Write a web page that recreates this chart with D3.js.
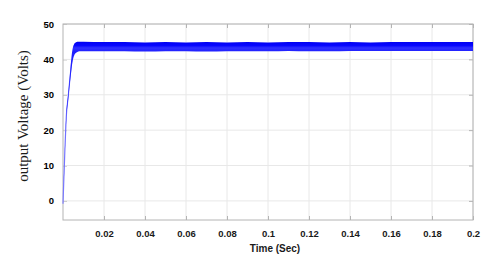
<!DOCTYPE html>
<html><head><meta charset="utf-8">
<script src="https://cdn.jsdelivr.net/npm/d3@7"></script>
<style>body{margin:0;background:#fff}svg{display:block}</style>
</head><body>
<svg id="c" width="494" height="264"></svg>
<script>
// time (s), upper and lower envelope of the output voltage band (V)
const time  = [0, 0.0005, 0.001, 0.0016, 0.0025, 0.0032, 0.0038, 0.0043, 0.0048, 0.0054, 0.0062, 0.007, 0.008, 0.01, 0.02, 0.03, 0.04, 0.05, 0.06, 0.07, 0.08, 0.09, 0.1, 0.11, 0.12, 0.13, 0.14, 0.15, 0.16, 0.17, 0.18, 0.19, 0.2];
const upper = [-0.8, 8, 16, 24.5, 30, 34.5, 38.5, 41.5, 43.3, 44.3, 44.8, 45, 45, 45, 44.9, 44.9, 44.8, 44.9, 44.8, 44.9, 44.8, 44.9, 44.8, 44.9, 44.9, 44.8, 44.9, 44.8, 44.9, 44.9, 44.9, 44.9, 44.9];
const lower = [-0.8, 7, 15, 23, 28.5, 32.5, 35.5, 38, 39.8, 41, 41.8, 42.1, 42.3, 42.3, 42.3, 42.3, 42.2, 42.3, 42.3, 42.2, 42.3, 42.3, 42.3, 42.4, 42.3, 42.3, 42.4, 42.4, 42.4, 42.4, 42.4, 42.4, 42.4];
const xTicks = [0.02, 0.04, 0.06, 0.08, 0.1, 0.12, 0.14, 0.16, 0.18, 0.2];
const xTickLabels = ["0.02","0.04","0.06","0.08","0.1","0.12","0.14","0.16","0.18","0.2"];
const yTicks = [0, 10, 20, 30, 40, 50];
const yTickLabels = ["0","10","20","30","40","50"];

const svg = d3.select("#c");
const L = 63, R = 473, T = 24, B = 220;
const x = d3.scaleLinear().domain([0, 0.2]).range([L, R]);
const y = d3.scaleLinear().domain([-5.4, 50]).range([B, T]);
const FONT = "Liberation Sans, Arial, sans-serif";

// y axis title
svg.append("text").attr("transform", "translate(28,116) rotate(-90)").attr("text-anchor", "middle")
  .attr("font-family", "Liberation Serif, Times New Roman, serif")
  .attr("font-size", 15).attr("fill", "#1a1a1a").text("output Voltage (Volts)");

// left axis with labels (same construction that rendered all labels in testing)
const axL = svg.append("g").attr("transform", `translate(${L},0)`)
  .call(d3.axisLeft(y).tickValues(yTicks).tickFormat((d, i) => yTickLabels[i]).tickSizeInner(-4).tickSizeOuter(0).tickPadding(9));
axL.selectAll(".tick text").attr("font-family", FONT)
  .attr("font-weight", "bold").attr("font-size", 9.5).attr("fill", "#000");

// grid
const g = svg.append("g");
g.selectAll("line.gx").data(xTicks).join("line").attr("class", "gx")
  .attr("x1", d => x(d)).attr("x2", d => x(d)).attr("y1", T).attr("y2", B)
  .attr("stroke", "#e8e8e8").attr("stroke-width", 1);
g.selectAll("line.gy").data(yTicks).join("line").attr("class", "gy")
  .attr("x1", L).attr("x2", R).attr("y1", d => y(d)).attr("y2", d => y(d))
  .attr("stroke", "#e8e8e8").attr("stroke-width", 1);

// box
svg.append("rect").attr("x", L).attr("y", T).attr("width", R - L).attr("height", B - T)
  .attr("fill", "none").attr("stroke", "#b4b4b4").attr("stroke-width", 1);

// other axes with inward ticks
const axB = svg.append("g").attr("transform", `translate(0,${B})`)
  .call(d3.axisBottom(x).tickValues(xTicks).tickFormat((d, i) => xTickLabels[i]).tickSizeInner(-4).tickSizeOuter(0).tickPadding(10));
const axT = svg.append("g").attr("transform", `translate(0,${T})`)
  .call(d3.axisTop(x).tickValues(xTicks).tickFormat(() => "").tickSizeInner(-4).tickSizeOuter(0));
const axR = svg.append("g").attr("transform", `translate(${R},0)`)
  .call(d3.axisRight(y).tickValues(yTicks).tickFormat(() => "").tickSizeInner(-4).tickSizeOuter(0));
[axB, axT, axL, axR].forEach(a => {
  a.select(".domain").remove();
  a.selectAll(".tick line").attr("stroke", "#b4b4b4");
});
axB.selectAll(".tick text").attr("font-family", FONT)
  .attr("font-weight", "bold").attr("font-size", 9.5).attr("fill", "#1a1a1a");

// signal band
const defs = svg.append("defs");
const grad = defs.append("linearGradient").attr("id", "bandgrad")
  .attr("gradientUnits", "userSpaceOnUse").attr("x1", 0).attr("x2", 0)
  .attr("y1", y(45)).attr("y2", y(42.3));
grad.append("stop").attr("offset", 0).attr("stop-color", "#0000f0");
grad.append("stop").attr("offset", 0.4).attr("stop-color", "#0808ff");
grad.append("stop").attr("offset", 0.65).attr("stop-color", "#3030ff");
grad.append("stop").attr("offset", 1).attr("stop-color", "#2020ff");

const data = time.map((t, i) => ({t, u: upper[i], l: lower[i]}));
const rise = data.filter(d => d.t <= 0.0043);
svg.append("path").datum(rise)
  .attr("d", d3.line().curve(d3.curveMonotoneX).x(d => x(d.t)).y(d => y((d.u + d.l) / 2)))
  .attr("fill", "none").attr("stroke", "#8080ff").attr("stroke-width", 1.2);
svg.append("path").datum(data)
  .attr("d", d3.area().curve(d3.curveMonotoneX).x(d => x(d.t)).y0(d => y(d.l)).y1(d => y(d.u)))
  .attr("fill", "url(#bandgrad)");

// x axis title
svg.append("text").attr("x", 275).attr("y", 252).attr("text-anchor", "middle")
  .attr("font-family", FONT).attr("font-weight", "bold")
  .attr("font-size", 10).attr("fill", "#1a1a1a").text("Time (Sec)");
</script>
</body></html>
